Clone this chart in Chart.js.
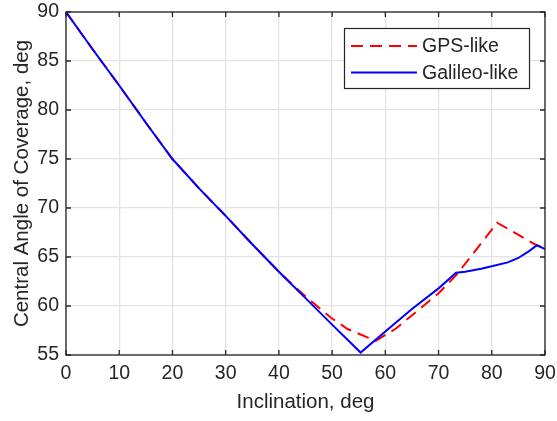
<!DOCTYPE html>
<html>
<head>
<meta charset="utf-8">
<script src="https://cdn.jsdelivr.net/npm/chart.js@4/dist/chart.umd.min.js"></script>
<style>
  html, body { margin: 0; padding: 0; background: #ffffff; }
  canvas { display: block; }
</style>
</head>
<body>
<canvas id="chart" width="557" height="421"></canvas>
<script>
// Inclination (deg) and central angle of coverage (deg) for each constellation
const gpsInclination = [0, 5, 10, 15, 20, 25, 30, 35, 40, 43.5, 46.7, 49.8, 52.9, 58.2, 62, 66, 70, 73.4, 81, 88.4, 90];
const gpsCoverage    = [90, 86.2, 82.5, 78.7, 75.0, 72.0, 69.2, 66.3, 63.5, 61.7, 60.2, 58.8, 57.65, 56.45, 57.7, 59.5, 61.3, 63.2, 68.5, 66.2, 65.9];

const galileoInclination = [0, 5, 10, 15, 20, 25, 30, 35, 40, 45, 50, 55.35, 60, 65, 70, 73.3, 75, 78, 80, 83, 85, 87, 88.5, 90];
const galileoCoverage    = [90, 86.2, 82.5, 78.7, 75.0, 72.0, 69.2, 66.3, 63.5, 60.8, 58.1, 55.25, 57.4, 59.7, 61.8, 63.4, 63.5, 63.8, 64.05, 64.45, 64.9, 65.6, 66.2, 65.8];

const seriesNames = ['GPS-like', 'Galileo-like'];
const xTicks = [0, 10, 20, 30, 40, 50, 60, 70, 80, 90];
const yTicks = [55, 60, 65, 70, 75, 80, 85, 90];

const toPoints = (xs, ys) => xs.map((x, i) => ({ x: x, y: ys[i] }));

const AXIS_COLOR = '#262626';
const GRID_COLOR = '#e3e3e3';
const FONT = "'Liberation Sans', Arial, Helvetica, sans-serif";

Chart.defaults.font.family = FONT;
Chart.defaults.color = AXIS_COLOR;

// Box around the axes with inward ticks on all four sides, plus an inset legend
const frameAndLegend = {
  id: 'frameAndLegend',
  afterDraw(chart) {
    const { ctx, chartArea: a, scales } = chart;
    const tick = 5;
    ctx.save();
    ctx.strokeStyle = AXIS_COLOR;
    ctx.lineWidth = 1.3;
    ctx.beginPath();
    xTicks.forEach(v => {
      const px = scales.x.getPixelForValue(v);
      ctx.moveTo(px, a.bottom); ctx.lineTo(px, a.bottom - tick);
      ctx.moveTo(px, a.top); ctx.lineTo(px, a.top + tick);
    });
    yTicks.forEach(v => {
      const py = scales.y.getPixelForValue(v);
      ctx.moveTo(a.left, py); ctx.lineTo(a.left + tick, py);
      ctx.moveTo(a.right, py); ctx.lineTo(a.right - tick, py);
    });
    ctx.stroke();
    ctx.strokeRect(a.left, a.top, a.right - a.left, a.bottom - a.top);

    // legend
    const bx = 344, by = 28, bw = 185, bh = 60;
    ctx.fillStyle = '#ffffff';
    ctx.fillRect(bx, by, bw, bh);
    ctx.lineWidth = 1.2;
    ctx.strokeStyle = AXIS_COLOR;
    ctx.strokeRect(bx + 0.5, by + 0.5, bw, bh);
    ctx.font = '19.5px ' + FONT;
    ctx.textBaseline = 'middle';
    ctx.textAlign = 'left';
    chart.data.datasets.forEach((ds, i) => {
      const ly = by + 18 + i * 26.5;
      ctx.beginPath();
      ctx.strokeStyle = ds.borderColor;
      ctx.lineWidth = 2;
      ctx.setLineDash(ds.borderDash || []);
      ctx.moveTo(bx + 7, ly);
      ctx.lineTo(bx + 73, ly);
      ctx.stroke();
      ctx.setLineDash([]);
      ctx.fillStyle = AXIS_COLOR;
      ctx.fillText(ds.label, bx + 78, ly + 1);
    });
    ctx.restore();
  }
};

new Chart(document.getElementById('chart'), {
  type: 'scatter',
  data: {
    datasets: [
      {
        label: seriesNames[0],
        data: toPoints(gpsInclination, gpsCoverage),
        showLine: true,
        borderColor: '#ff0000',
        borderWidth: 2,
        borderDash: [12, 7],
        pointRadius: 0,
        fill: false,
        tension: 0,
        order: 2
      },
      {
        label: seriesNames[1],
        data: toPoints(galileoInclination, galileoCoverage),
        showLine: true,
        borderColor: '#0000ff',
        borderWidth: 2,
        pointRadius: 0,
        fill: false,
        tension: 0,
        order: 1
      }
    ]
  },
  options: {
    responsive: false,
    animation: false,
    devicePixelRatio: 1,
    layout: { padding: { top: 12, right: 12, left: 0, bottom: 0 } },
    plugins: {
      legend: { display: false },
      tooltip: { enabled: false }
    },
    scales: {
      x: {
        type: 'linear',
        min: 0,
        max: 90,
        afterBuildTicks: s => { s.ticks = xTicks.map(v => ({ value: v })); },
        afterFit: s => { s.height = 66; s.paddingLeft = 0; s.paddingRight = 0; },
        grid: { color: GRID_COLOR, lineWidth: 1.3, drawTicks: false },
        border: { display: false },
        ticks: { padding: 7, maxRotation: 0, font: { size: 19.5 }, color: AXIS_COLOR },
        title: {
          display: true,
          text: 'Inclination, deg',
          font: { size: 20.5 },
          color: AXIS_COLOR,
          padding: { top: 0, bottom: 6 }
        }
      },
      y: {
        type: 'linear',
        min: 55,
        max: 90,
        afterBuildTicks: s => { s.ticks = yTicks.map(v => ({ value: v })); },
        afterFit: s => { s.width = 66; s.paddingTop = 0; s.paddingBottom = 0; },
        grid: { color: GRID_COLOR, lineWidth: 1.3, drawTicks: false },
        border: { display: false },
        ticks: { padding: 7, font: { size: 19.5 }, color: AXIS_COLOR },
        title: {
          display: true,
          text: 'Central Angle of Coverage, deg',
          font: { size: 20.5 },
          color: AXIS_COLOR,
          padding: { top: 10, bottom: 0 }
        }
      }
    }
  },
  plugins: [frameAndLegend]
});
</script>
</body>
</html>
